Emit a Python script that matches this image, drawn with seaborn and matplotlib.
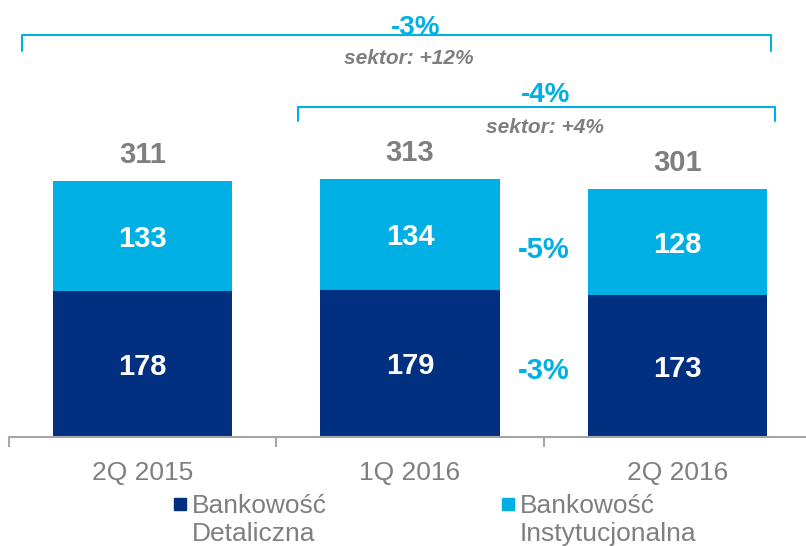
import matplotlib
matplotlib.use("Agg")
import matplotlib.pyplot as plt
import seaborn as sns
from matplotlib.lines import Line2D


# Dane
kwartaly = ["2Q 2015", "1Q 2016", "2Q 2016"]
detaliczna = [178, 179, 173]
instytucjonalna = [133, 134, 128]
suma = [311, 313, 301]

zmiana_detal = "-3%"
zmiana_instyt = "-5%"
zmiana_rok = "-3%"
sektor_rok = "sektor: +12%"
zmiana_kw = "-4%"
sektor_kw = "sektor: +4%"

# Kolory
GRANAT = "#00307f"
BLEKIT = "#00b0e4"
SZARY = "#7f7f7f"
OS = "#a6a6a6"

sns.set_theme(style="white")
plt.rcParams["font.family"] = ["Liberation Sans", "DejaVu Sans"]

fig = plt.figure(figsize=(8.06, 5.46), dpi=100)
ax = fig.add_axes([8.75 / 806, 109 / 546, 802.5 / 806, 437 / 546])

# Słupki skumulowane
sns.barplot(x=kwartaly, y=detaliczna, color=GRANAT, width=0.67,
            saturation=1, ax=ax, linewidth=0)
sns.barplot(x=kwartaly, y=instytucjonalna, bottom=detaliczna, color=BLEKIT,
            width=0.67, saturation=1, ax=ax, linewidth=0)

ax.set_xlim(-0.5, 2.5)
ax.set_ylim(0, 531)

# Osie
for s in ["top", "right", "left"]:
    ax.spines[s].set_visible(False)
ax.spines["bottom"].set_color(OS)
ax.spines["bottom"].set_linewidth(1.5)
ax.set_yticks([])
ax.set_xticks(range(len(kwartaly)))
ax.set_xticklabels(kwartaly, fontsize=19, color=SZARY)
ax.set_xticks([-0.5, 0.5, 1.5, 2.5], minor=True)
ax.tick_params(axis="x", which="major", length=0, pad=17)
ax.tick_params(axis="x", which="minor", length=7, width=1.5, color=OS,
               direction="out", bottom=True)

d = 3.5  # korekta pionowa tekstu

# Etykiety wartości
for i in range(len(kwartaly)):
    ax.text(i, detaliczna[i] / 2 - d, str(detaliczna[i]), ha="center",
            va="center", color="white", fontsize=21, fontweight="bold")
    ax.text(i, detaliczna[i] + instytucjonalna[i] / 2 - d,
            str(instytucjonalna[i]), ha="center", va="center", color="white",
            fontsize=21, fontweight="bold")
    ax.text(i, suma[i] + 35 - d, str(suma[i]), ha="center", va="center",
            color=SZARY, fontsize=21, fontweight="bold")

# Zmiany między słupkami
ax.text(1.5, 231 - d, zmiana_instyt, ha="center", va="center", color=BLEKIT,
        fontsize=21, fontweight="bold")
ax.text(1.5, 84 - d, zmiana_detal, ha="center", va="center", color=BLEKIT,
        fontsize=21, fontweight="bold")

# Klamry
ax.plot([-0.449, -0.449, 2.348, 2.348], [469, 488.5, 488.5, 469],
        color=BLEKIT, lw=1.5, clip_on=False)
ax.text(1.02, 500 - d, zmiana_rok, ha="center", va="center", color=BLEKIT,
        fontsize=20, fontweight="bold")
ax.text(0.995, 464 - d, sektor_rok, ha="center", va="center", color=SZARY,
        fontsize=15, fontweight="bold", style="italic")

ax.plot([0.583, 0.583, 2.363, 2.363], [384, 401, 401, 384],
        color=BLEKIT, lw=1.5, clip_on=False)
ax.text(1.507, 419 - d, zmiana_kw, ha="center", va="center", color=BLEKIT,
        fontsize=20, fontweight="bold")
ax.text(1.503, 380 - d, sektor_kw, ha="center", va="center", color=SZARY,
        fontsize=15, fontweight="bold", style="italic")

# Legenda
uchwyty = [Line2D([], [], marker="s", ls="", color=GRANAT, markersize=9),
           Line2D([], [], marker="s", ls="", color=BLEKIT, markersize=9)]
leg = fig.legend(uchwyty, ["Bankowość\nDetaliczna", "Bankowość\nInstytucjonalna"],
                 loc="upper left", bbox_to_anchor=(171 / 806, 1 - 494 / 546),
                 ncol=2, frameon=False, fontsize=19, labelcolor=SZARY,
                 handlelength=0.7, handleheight=1.0, handletextpad=0.1,
                 columnspacing=6.5, borderpad=0, borderaxespad=0,
                 labelspacing=0)
# znacznik na wysokości pierwszego wiersza
for kol in leg._legend_handle_box.get_children():
    for el in kol.get_children():
        el.align = "top"

fig.savefig("out.png", dpi=100)
